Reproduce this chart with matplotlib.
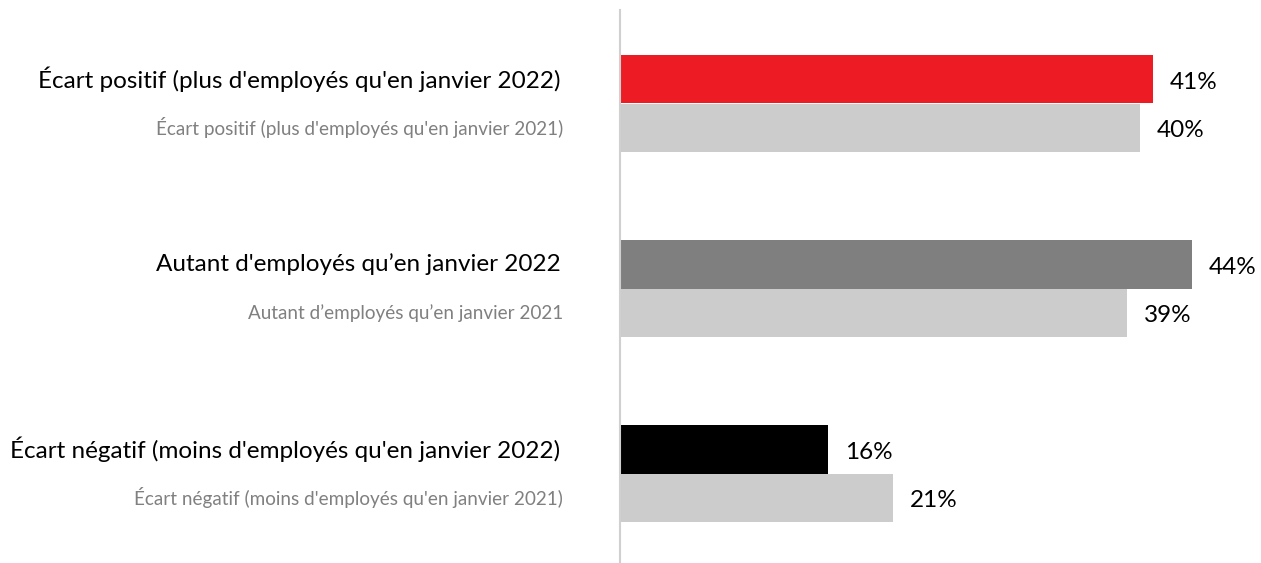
import matplotlib.pyplot as plt

plt.rcParams['font.family'] = ['Lato', 'DejaVu Sans']

labels_2022 = ["Écart positif (plus d'employés qu'en janvier 2022)",
               "Autant d'employés qu’en janvier 2022",
               "Écart négatif (moins d'employés qu'en janvier 2022)"]
labels_2021 = ["Écart positif (plus d'employés qu'en janvier 2021)",
               "Autant d’employés qu’en janvier 2021",
               "Écart négatif (moins d'employés qu'en janvier 2021)"]
vals_2022 = [41, 44, 16]
vals_2021 = [40, 39, 21]
colors_2022 = ['#ED1C24', '#7F7F7F', '#000000']
color_2021 = '#CCCCCC'

W, H = 1261, 563
fig = plt.figure(figsize=(W / 100, H / 100), dpi=100)
ax = fig.add_axes([620 / W, 0, (W - 620) / W, 1 - 10 / H])

h = 0.262
ypos = list(range(len(vals_2022)))
y22 = [y - h / 2 for y in ypos]
y21 = [y + h / 2 for y in ypos]

ax.barh(y22, vals_2022, height=h, color=colors_2022)
ax.barh(y21, vals_2021, height=h, color=color_2021)

for y, v in zip(y22, vals_2022):
    ax.annotate(f'{v}%', (v, y), xytext=(12, -2), textcoords='offset points',
                va='center', ha='left', fontsize=17.5, color='#000000')
for y, v in zip(y21, vals_2021):
    ax.annotate(f'{v}%', (v, y), xytext=(12, -2), textcoords='offset points',
                va='center', ha='left', fontsize=17.5, color='#000000')

# category labels to the left of the axis
for y, t in zip(y22, labels_2022):
    ax.annotate(t, (0, y), xytext=(-43, 0), textcoords='offset points',
                va='center', ha='right', fontsize=17.5, color='#000000')
for y, t in zip(y21, labels_2021):
    ax.annotate(t, (0, y), xytext=(-41, 0), textcoords='offset points',
                va='center', ha='right', fontsize=13.6, color='#808080')

ax.set_xlim(0, (W - 620) / 13)
unit = 185
top = -93.5 / unit
ax.set_ylim(top + 553 / unit, top)

for s in ['top', 'right', 'bottom']:
    ax.spines[s].set_visible(False)
ax.spines['left'].set_color('#D0D0D0')
ax.spines['left'].set_linewidth(1.5)
ax.set_xticks([])
ax.set_yticks([])

fig.savefig('out.png', dpi=100)
